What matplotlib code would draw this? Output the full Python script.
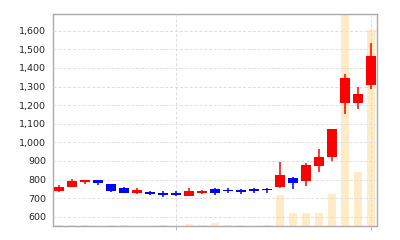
from matplotlib import pyplot as plt
from matplotlib.ticker import FuncFormatter, FixedLocator
import numpy as np

# daily candles, oldest first
opens  = [740, 762, 788, 797, 774, 756, 727, 732, 728, 726, 714, 727, 750,
          744, 743, 750, 750, 758, 810, 793, 873, 922, 1213, 1214, 1308]
closes = [761, 792, 795, 781, 740, 729, 744, 721, 718, 717, 740, 740, 728,
          736, 735, 740, 742, 823, 782, 878, 922, 1070, 1344, 1260, 1465]
highs  = [768, 803, 798, 799, 776, 758, 752, 738, 736, 738, 755, 742, 752,
          752, 748, 754, 752, 892, 815, 890, 962, 1072, 1370, 1296, 1532]
lows   = [734, 760, 775, 770, 733, 726, 721, 719, 708, 712, 712, 720, 718,
          727, 724, 727, 728, 756, 748, 765, 840, 897, 1152, 1180, 1285]
volume = [3, 6, 6, 2, 4, 4, 2, 2, 4, 2, 8, 4, 15,
          5, 5, 2, 3, 146, 61, 63, 61, 151, 1000, 255, 925]

month_marks = [9, 24]
yticks = [600, 700, 800, 900, 1000, 1100, 1200, 1300, 1400, 1500, 1600]

x = np.arange(len(opens))
opens = np.array(opens)
closes = np.array(closes)
highs = np.array(highs)
lows = np.array(lows)

fig = plt.figure(figsize=(4, 2.4), dpi=100)
ax = fig.add_axes([0.1325, 0.0583, 0.81, 0.8834])
ax2 = ax.twinx()

ax2.bar(x, volume, width=0.65, color='#ffebc6', linewidth=0)
ax2.set_ylim(0, max(volume))
ax2.set_yticks([])
for s in ax2.spines.values():
    s.set_visible(False)

ax.set_zorder(ax2.get_zorder() + 1)
ax.patch.set_visible(False)

up = closes >= opens
colors = np.where(up, '#ff0000', '#0000ff')
ax.vlines(x, lows, highs, colors=colors, linewidth=1.1, zorder=3)
bottoms = np.minimum(opens, closes)
heights = np.maximum(np.abs(closes - opens), 4)
ax.bar(x, heights, bottom=bottoms, width=0.78, color=colors, linewidth=0, zorder=4)

ax.set_xlim(-0.46, 24.46)
ax.set_ylim(550, 1690)
ax.yaxis.set_major_locator(FixedLocator(yticks))
ax.yaxis.set_major_formatter(FuncFormatter(lambda v, p: f'{int(v):,}'))
ax.xaxis.set_major_locator(FixedLocator(month_marks))
ax.set_xticklabels([])
ax.tick_params(axis='y', length=0, pad=5, labelsize=6.8, colors='#222222')
ax.tick_params(axis='x', length=3, color='#bbbbbb')
ax.grid(axis='both', color='#dddddd', linestyle='--', linewidth=0.7, dashes=(3, 2))
ax.set_axisbelow(False)
for s in ax.spines.values():
    s.set_color('#aaaaaa')
    s.set_linewidth(1)

fig.savefig('out.png', dpi=100)
